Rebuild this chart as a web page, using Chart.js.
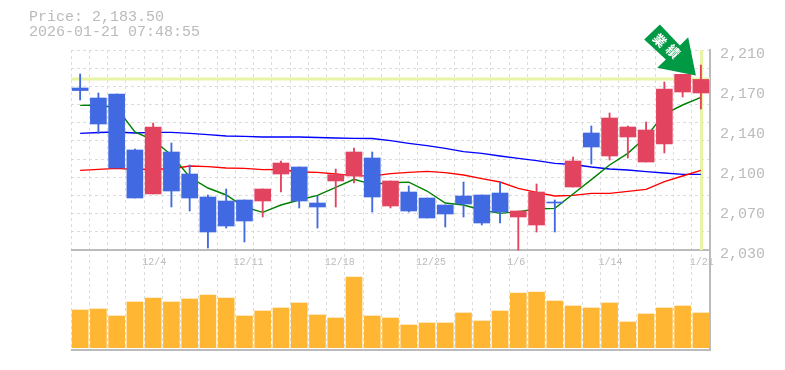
<!DOCTYPE html>
<html>
<head>
<meta charset="utf-8">
<style>
html,body{margin:0;padding:0;background:#fff;}
#wrap{position:relative;width:785px;height:370px;overflow:hidden;}
canvas{position:absolute;left:0;top:0;}
#head{position:absolute;left:29px;top:10px;font:15px/15px "Liberation Mono",monospace;color:#bbb;white-space:pre;}
</style>
</head>
<body>
<div id="wrap"><canvas id="c" width="785" height="370"></canvas><div id="head"></div></div>
<script src="https://cdn.jsdelivr.net/npm/chart.js@4/dist/chart.umd.min.js"></script>
<script>
const stamp = '2026-01-21 07:48:55';
const lastPrice = 2183.5;
const badgeText = ['業','績'];
const categories = ['11/28','12/1','12/2','12/3','12/4','12/5','12/8','12/9','12/10','12/11','12/12','12/15','12/16','12/17','12/18','12/19','12/22','12/23','12/24','12/25','12/26','12/29','12/30','1/5','1/6','1/7','1/8','1/9','1/13','1/14','1/15','1/16','1/19','1/20','1/21'];
const shownDates = ['12/4','12/11','12/18','12/25','1/6','1/14','1/21'];
const opens  = [2175.8,2166.8,2170.4,2120,2080.4,2118.2,2098.4,2077.7,2074.1,2075,2074.1,2098.4,2104.7,2072.3,2092.1,2096.6,2112.8,2069.6,2082.2,2076.8,2070.5,2078.6,2079.5,2081.3,2059.7,2052.5,2073.2,2086.7,2135.3,2114.6,2131.7,2109.2,2125.4,2172.2,2171.3];
const closes = [2173.5,2143.4,2103.8,2076.8,2140.7,2083.1,2076.8,2046.2,2051.6,2056.1,2084.9,2108.3,2074.1,2068.7,2097.8,2118.2,2077.7,2092.1,2065.1,2058.8,2062.4,2071.4,2054.3,2064.2,2065.1,2082.2,2072.3,2110.1,2122.7,2148.8,2140.7,2138,2174.9,2188.1,2183.5];
const highs  = [2188.4,2171.3,2170.4,2120.9,2144.3,2126.3,2106.5,2079.5,2084.9,2075,2084.9,2110.1,2104.7,2078.6,2102.9,2121.8,2118.2,2092.1,2087.6,2076.8,2070.5,2091.2,2079.5,2091.2,2065.1,2089.4,2075,2113.7,2141.6,2153.3,2141.6,2145.2,2181.2,2188.1,2196.5];
const lows   = [2165,2134.9,2103.8,2076.8,2080.4,2068.7,2065.1,2031.8,2049.8,2037.2,2059.7,2082.2,2067.8,2049.8,2068.7,2090.3,2064.2,2067.8,2064.2,2058.8,2050.7,2059.7,2052.5,2054.3,2030,2046.2,2046.2,2086.7,2107.4,2111,2112.8,2109.2,2117.3,2167.7,2156.9];
const maLong = [2135,2135.8,2136.2,2135.3,2135.9,2135.9,2135,2133.8,2132.6,2132.3,2131.7,2131.7,2131.7,2131.3,2130.8,2130.5,2130.4,2128.4,2126,2123.9,2121.5,2118.5,2117,2114.6,2112.5,2110.4,2108,2107,2104.7,2102.9,2102,2100.5,2099.3,2098.1,2098.1];
const maMid  = [2101.7,2102.6,2103.5,2102.5,2102.9,2102.9,2105.6,2105,2103.8,2103.5,2102.3,2102.5,2100.2,2099.9,2098.4,2096.9,2096.6,2098.7,2099.9,2100.8,2099.6,2097.5,2094.2,2091.2,2085.5,2081.9,2078.6,2079.2,2081,2081,2082.8,2084.6,2091.5,2096.6,2101.7];
const maShort= [2160.2,2160.5,2157.8,2136.2,2129,2115.5,2095.7,2085.8,2079.5,2068.7,2063.9,2070.5,2075,2079.2,2086.4,2093.6,2089.1,2090.6,2091,2083.1,2072.3,2070.5,2066,2063,2064.5,2066.9,2067.5,2080.4,2093.3,2106.5,2117,2132,2152.4,2160.5,2167.4];
const volumes = [377,387,317,457,497,457,487,527,497,317,367,397,447,327,297,707,317,297,227,247,247,347,267,367,547,557,467,417,397,447,257,337,397,417,347];
const priceTicks = [2210,2174,2138,2102,2066,2030,1940];
const gridLevels = [2210,2193.6,2177.3,2160.9,2144.5,2128.2,2111.8,2095.5,2079.1,2062.7,2046.4];
const priceMin = 1940, priceMax = 2210, volMin = -23, volMax = 2977;

const RED='#e2445f', BLUE='#4169e1', GRID='#dddddd', AXIS='#bbbbbb', TEXT='#bbbbbb', HILITE='#e5f5a5';
document.getElementById('head').textContent = 'Price: ' + lastPrice.toLocaleString('en-US',{minimumFractionDigits:2}) + '\n' + stamp;

const candleColors = closes.map((c,i)=> c>=opens[i] ? RED : BLUE);
const zip = (a,b)=>a.map((v,i)=>[v,b[i]]);

const overlay = {
  id:'overlay',
  beforeDatasetsDraw(chart){
    const {ctx,chartArea:a,scales}=chart;
    const y=scales.yPrice.getPixelForValue(lastPrice);
    const x=scales.x.getPixelForValue(categories.length-1);
    const top=scales.yPrice.getPixelForValue(priceMax), bot=scales.yPrice.getPixelForValue(2030);
    ctx.save();
    ctx.fillStyle=HILITE;
    ctx.fillRect(a.left,Math.round(y)-1.5,a.right-a.left,3);
    ctx.fillRect(Math.round(x)-1,top,3,bot-top);
    ctx.restore();
  },
  afterDatasetsDraw(chart){
    const {ctx,scales}=chart;
    const tx=scales.x.getPixelForValue(categories.length-1)-5;
    const ty=scales.yPrice.getPixelForValue(closes[closes.length-1])-4;
    const shape=[[-36,-51],[-16,-30],[-7.7,-38.3],[0,0],[-38.7,-7.7],[-30,-16],[-51.7,-36]];
    ctx.save();
    ctx.fillStyle='#009944';
    ctx.beginPath();
    shape.forEach((p,i)=>i?ctx.lineTo(tx+p[0],ty+p[1]):ctx.moveTo(tx+p[0],ty+p[1]));
    ctx.closePath();ctx.fill();
    ctx.fillStyle='#fff';
    ctx.font='bold 13px "Noto Sans CJK JP"';
    ctx.textAlign='center';ctx.textBaseline='middle';
    [[-36,-35],[-22.7,-24]].forEach((p,i)=>{
      ctx.save();ctx.translate(tx+p[0],ty+p[1]);ctx.rotate(Math.PI/4);
      ctx.fillText(badgeText[i],0,0);ctx.restore();
    });
    ctx.restore();
  }
};

new Chart(document.getElementById('c'),{
  data:{
    labels:categories,
    datasets:[
      {type:'line',data:maLong,yAxisID:'yPrice',borderColor:'#0000ff',borderWidth:1.4,pointRadius:0,tension:0,order:6},
      {type:'line',data:maMid,yAxisID:'yPrice',borderColor:'#ff0000',borderWidth:1.4,pointRadius:0,tension:0,order:5},
      {type:'line',data:maShort,yAxisID:'yPrice',borderColor:'#008000',borderWidth:1.4,pointRadius:0,tension:0,order:4},
      {type:'bar',data:volumes,yAxisID:'yVol',backgroundColor:'#ffb733',barThickness:16,borderWidth:0,grouped:false,order:3},
      {type:'bar',data:zip(lows,highs),yAxisID:'yPrice',backgroundColor:candleColors,barThickness:1.2,borderWidth:0,grouped:false,order:2},
      {type:'bar',data:zip(opens,closes),yAxisID:'yPrice',backgroundColor:candleColors,barThickness:16,borderWidth:0,grouped:false,order:1}
    ]
  },
  options:{
    responsive:false,animation:false,
    layout:{padding:{left:71,right:0,top:50,bottom:20}},
    plugins:{legend:{display:false},tooltip:{enabled:false},title:{display:false}},
    scales:{
      x:{
        type:'category',position:{yPrice:2030},offset:true,
        grid:{display:true,offset:true,color:GRID,lineWidth:1,drawTicks:false},
        border:{display:false,dash:[3,3]},
        ticks:{autoSkip:false,maxRotation:0,minRotation:0,align:'start',labelOffset:-11,padding:6,color:TEXT,
          font:{family:'"Liberation Mono"',size:10},
          callback(v,i){const l=categories[i];return shownDates.includes(l)?l:'';}}
      },
      yGrid:{
        type:'linear',position:'left',min:priceMin,max:priceMax,
        afterBuildTicks(s){s.ticks=gridLevels.map(value=>({value}));},
        afterFit(s){s.width=0;},
        grid:{color:GRID,lineWidth:1,drawTicks:false},
        border:{display:false,dash:[3,3]},
        ticks:{display:false,autoSkip:false}
      },
      yPrice:{
        type:'linear',position:'right',min:priceMin,max:priceMax,
        afterBuildTicks(s){s.ticks=priceTicks.map(value=>({value}));},
        afterFit(s){s.width=75;},
        grid:{color:c=>(c.tick&&c.tick.value<=2030)?AXIS:'rgba(0,0,0,0)',lineWidth:2,drawTicks:false},
        border:{display:true,color:AXIS,width:2},
        ticks:{autoSkip:false,padding:10,labelOffset:4,color:TEXT,
          font:{family:'"Liberation Mono"',size:15},
          callback(v){return v<2030?'':(Math.round(v/10)*10).toLocaleString('en-US');}}
      },
      yVol:{type:'linear',display:false,min:volMin,max:volMax}
    }
  },
  plugins:[overlay]
});
</script>
</body>
</html>
